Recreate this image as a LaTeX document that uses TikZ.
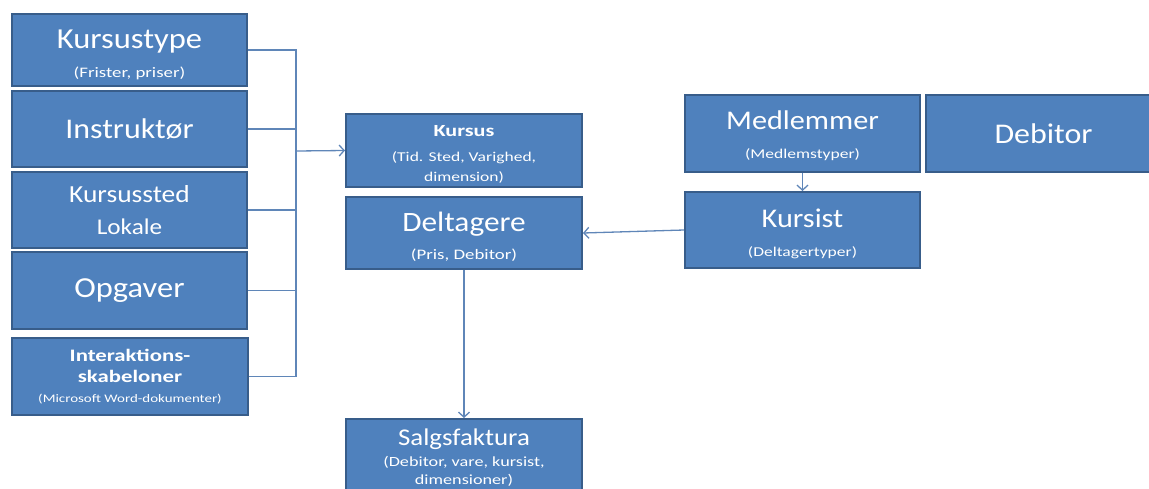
\documentclass[tikz,border=0pt]{standalone}
\usepackage{fontspec}
\setmainfont{Carlito}[FakeStretch=1.12]
\newfontfamily\subfont{Carlito}[FakeStretch=1.3]
\usepackage{tikz}
\usetikzlibrary{arrows.meta,positioning,calc}

\definecolor{boxfill}{HTML}{4F81BD}
\definecolor{boxline}{HTML}{385D8A}
\definecolor{linkcol}{HTML}{5F86B8}

\newcommand{\fs}[1]{\fontsize{#1}{#1}\selectfont}
\newcommand{\sfs}[1]{\subfont\fontsize{#1}{#1}\selectfont}
\newcommand{\strutto}[1]{\rule{0pt}{#1}}

\begin{document}
\begin{tikzpicture}[x=1pt, y=-1pt,
    box/.style={draw=boxline, fill=boxfill, line width=2pt, text=white, align=center,
                inner sep=0pt, minimum width=235pt, font=\fontsize{12}{#1}\selectfont},
    box/.default=14,
    link/.style={draw=linkcol, line width=1.3pt},
    arr/.style={link, -{Straight Barb[length=5pt,width=11pt]}}]
    \useasboundingbox (0,0) rectangle (1149,488);
    \clip (0,0) rectangle (1149,488);

    % Left column
    \node[box=29, minimum height=72pt] (kursustype) at (129.5,50)
        {\fs{29}\strutto{28pt}Kursustype\\\sfs{14.5}(Frister, priser)};
    \node[box, minimum height=76pt] (instruktor) at (129.5,129) {\fs{28.5}Instruktør};
    \node[box=32, minimum height=76pt] (kursussted) at (129.5,210) {\fs{24.5}Kursussted\\\fs{22.5}Lokale};
    \node[box, minimum height=77pt] (opgaver) at (129.5,290.5) {\fs{29}Opgaver};
    \node[box=20, minimum width=236pt, minimum height=77pt] (skabeloner) at (130,376.5)
        {\sfs{17.5}\bfseries Interaktions-\\[1pt]\sfs{17.5}\bfseries skabeloner\\\sfs{11.5}(Microsoft Word-dokumenter)};

    % Middle column
    \node[box=20, minimum width=236pt, minimum height=73pt] (kursus) at (464,150.5)
        {\sfs{17}\bfseries\strutto{18pt}Kursus\\[5pt]\sfs{13.5}(Tid. Sted, Varighed,\\\sfs{13.5}dimension)};
    \node[box=28, minimum width=236pt, minimum height=72pt] (deltagere) at (464,233)
        {\fs{28}\strutto{26pt}Deltagere\\\sfs{14.5}(Pris, Debitor)};
    \node[box=18, minimum width=236pt, minimum height=78pt, anchor=north] (salgsfaktura) at (464,418)
        {\fs{24}Salgsfaktura\\[3pt]\sfs{14}(Debitor, vare, kursist,\\\sfs{14}dimensioner)};

    % Right side
    \node[box=29, minimum height=77pt] (medlemmer) at (802.5,133.5)
        {\fs{27}\strutto{24pt}Medlemmer\\\sfs{13.5}(Medlemstyper)};
    \node[box, minimum height=77pt, anchor=west] (debitor) at (925,133.5) {\fs{28.5}Debitor};
    \node[box=29, minimum height=76pt] (kursist) at (802.5,230)
        {\fs{27}\strutto{26pt}Kursist\\\sfs{13.5}(Deltagertyper)};

    % Links into Kursus
    \coordinate (bus) at (296,151);
    \draw[link] (kursustype.east) -| (bus);
    \draw[link] (skabeloner.east) -| (bus);
    \draw[link] (instruktor.east) -- (instruktor.east -| bus);
    \draw[link] (kursussted.east) -- (kursussted.east -| bus);
    \draw[link] (opgaver.east) -- (opgaver.east -| bus);
    \draw[arr] (bus) -- (kursus.west);

    % Other arrows
    \draw[arr] (medlemmer) -- (kursist);
    \draw[arr] (kursist.west) -- (deltagere.east);
    \draw[arr] (deltagere) -- (salgsfaktura);
\end{tikzpicture}
\end{document}
